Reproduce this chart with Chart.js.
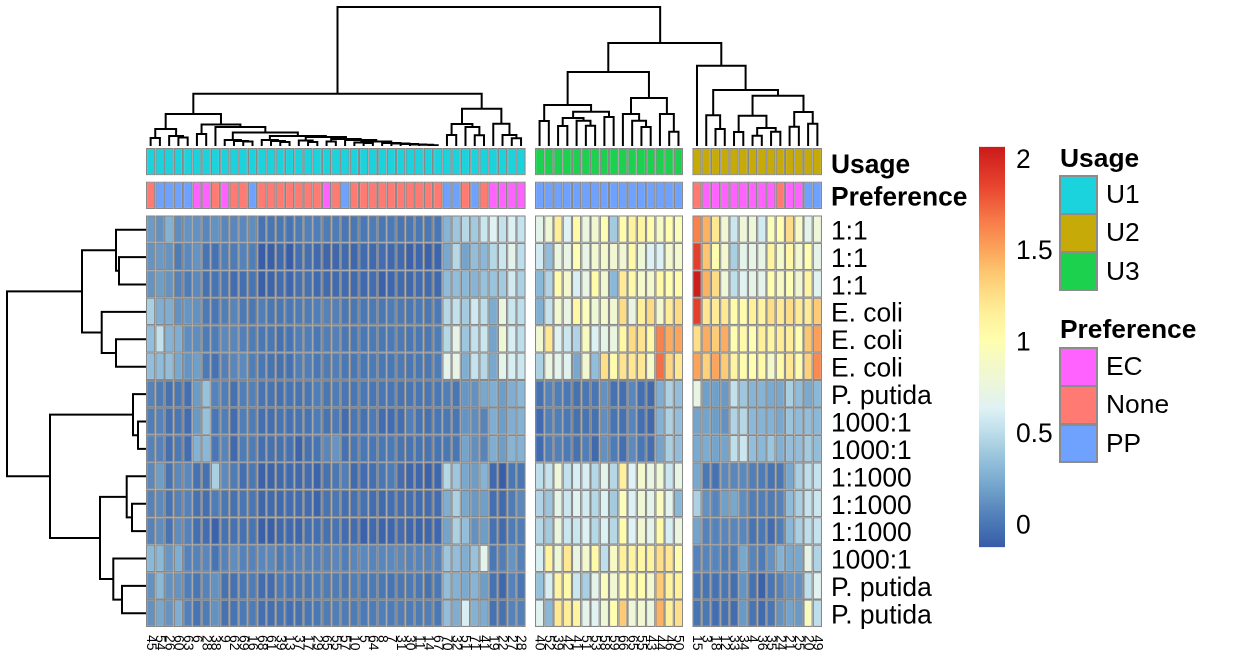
<!DOCTYPE html>
<html><head><meta charset="utf-8">
<script src="https://cdn.jsdelivr.net/npm/chart.js@4"></script>
<style>
html,body{margin:0;padding:0;background:#fff;width:1248px;height:672px;overflow:hidden}
canvas{position:absolute;display:block}
.t{position:absolute;font:26.4px "Liberation Sans",Arial,sans-serif;color:#000;line-height:30px;white-space:nowrap}
.b{font-weight:bold}
.s{position:absolute;box-sizing:border-box;border:2px solid #8c8c8c;left:1059px;width:39px}
</style></head><body>
<canvas id="left" width="146" height="411" style="left:0;top:216px;width:146px;height:411px"></canvas>
<canvas id="top" width="676" height="146" style="left:146px;top:0;width:676px;height:146px"></canvas>
<canvas id="heat" width="850" height="549" style="left:146px;top:123px;width:850px;height:549px"></canvas>
<canvas id="scale" width="90" height="454" style="left:979px;top:120px;width:90px;height:454px"></canvas>
<div id="legend"></div>
<script>
const group1Labels=["45","54","26","60","63","6","28","38","9","62","69","16","68","61","39","13","37","17","29","65","55","57","10","5","64","8","7","31","30","11","14","67","70","32","51","71","41","19","22","27","28"];
const group2Labels=["40","52","39","42","41","51","53","58","59","66","65","55","43","44","46","50"];
const group3Labels=["15","3","18","12","33","34","4","36","35","24","21","25","20","49"];
const rowLabels=["1:1","1:1","1:1","E. coli","E. coli","E. coli","P. putida","1000:1","1000:1","1:1000","1:1000","1:1000","1000:1","P. putida","P. putida"];

const usage1=Array(41).fill("U1"), usage2=Array(16).fill("U3"), usage3=Array(14).fill("U2");
const pref1=["None","PP","PP","PP","PP","EC","EC","None","EC","None","None","PP","None","None","None","None","None","None","None","EC","None","PP","None","None","None","None","None","None","None","None","None","None","PP","PP","None","PP","None","EC","EC","EC","EC"];
const pref2=Array(16).fill("PP");
const pref3=["None","EC","EC","EC","EC","EC","EC","EC","EC","None","EC","EC","PP","PP"];

const row01=[.16,.12,.27,.1,.13,.12,.07,.12,.07,.07,.08,.1,-.02,-.01,0,-.02,.02,.04,.03,.02,.02,-.01,0,0,.02,0,.01,-.01,0,0,0,-.01,.28,.38,.47,.4,.55,.64,.52,.62,.53, .68,.8,1.17,.63,1.05,.75,.82,.98,.4,1.03,1.12,1.1,1.03,.88,1,.95, 1.63,1.45,1.2,.82,.55,.78,.78,.58,.95,1,1.27,.9,.68,.78];
const row02=[.13,.15,.13,.02,.08,.13,-.02,-.03,.03,.02,.05,.03,-.12,-.11,-.06,-.12,-.04,-.04,-.07,-.08,-.08,-.06,-.08,-.06,-.07,-.05,-.07,-.06,-.1,-.08,-.1,-.09,.22,.47,.2,.33,.3,.47,.55,.68,.5, .58,.33,.75,.72,.98,.72,.83,.85,.82,.82,1.05,.8,.62,.62,.85,.85, 1.88,1.38,1.03,.85,.42,.68,.72,.72,1.1,.87,1.08,.85,1,.7];
const row03=[.13,.17,.13,.05,.02,.08,-.03,-.02,-.01,-.05,-.04,-.02,-.11,-.09,-.05,-.08,-.03,-.03,-.06,-.06,-.06,-.06,-.06,-.07,-.05,-.1,-.08,-.06,-.07,-.05,-.06,-.07,.32,.33,.3,.28,.35,.36,.4,.58,.43, .3,.45,1.03,.85,.6,.72,1.02,.82,.3,1.18,1.05,.87,.85,1.05,1,1.02, 2.05,1.45,1.27,.78,.5,.65,.7,.68,1,.9,.97,.82,1.1,.65];
const row04=[.42,.25,.25,.12,.14,.12,.01,-.01,.03,.06,.01,0,.03,0,0,0,.02,.02,.03,.05,.04,0,0,0,.01,0,.02,.01,0,.01,0,.01,.47,.52,.4,.57,.5,.24,.75,.55,.5, .26,.53,.83,.73,1.08,.95,.8,.85,.82,1.27,.73,1.15,1.28,.85,1.17,1.28, 1.88,1.2,1.18,1.2,1.03,1.03,1.15,1.1,1.25,1.18,1.27,1.18,1.18,1.35];
const row05=[.33,.52,.28,.25,.1,.1,.02,.02,.08,.07,.04,.02,0,0,-.03,-.02,.03,.03,0,.03,.04,0,0,0,.01,0,.01,.01,0,0,0,.02,.47,.7,.37,.52,.55,.2,.8,.6,.5, .82,1.2,.65,.55,.45,.92,.62,.7,.75,1.08,1.27,1.22,1.07,1.63,1.48,1.5, 1.25,1.47,1.35,1.47,1,1.05,.98,1.15,1.08,1.17,1.17,1,1.37,1.52];
const row06=[.33,.32,.33,.22,.13,.18,.01,-.03,.04,.07,.09,.03,0,-.02,-.03,-.03,.03,.03,0,.02,.03,0,0,0,.01,0,0,.01,0,0,0,.02,.68,.72,.25,.53,.47,.22,.68,.6,.55, .43,.75,.68,.65,.22,.82,.33,1.25,1.02,1.22,1.2,1.2,.88,1.7,1.3,1.2, 1.5,1.32,1.5,1.35,1.1,1.03,1,1.05,.85,1.05,1.2,1.02,1.32,1.6];
const row07=[.05,.02,-.03,0,-.04,.16,.35,.05,.03,-.03,.03,.04,-.02,-.02,-.03,-.02,-.02,-.01,.03,0,.02,-.01,-.01,0,-.01,-.01,-.01,-.02,-.01,-.01,-.01,0,.03,-.01,.14,.12,.22,.25,.17,.25,.3, -.03,.05,.03,0,-.03,-.01,-.01,.12,-.03,-.04,.07,-.04,-.06,.25,.43,.33, .72,.18,.18,.15,.52,.38,.28,.28,.23,.22,.42,.32,.23,.3];
const row08=[.03,.05,-.03,0,-.05,.15,.35,-.01,.03,-.05,.03,.02,-.04,-.04,-.02,-.03,-.02,-.02,.02,-.02,.01,-.05,-.01,-.03,.01,-.05,-.05,-.04,.03,-.02,-.03,-.01,0,-.01,.13,.1,.06,.25,.17,.25,.27, -.06,.04,.03,0,-.03,-.02,-.03,.11,-.02,-.03,.06,-.04,-.07,.27,.43,.33, .2,.2,.17,.12,.45,.47,.3,.28,.27,.22,.36,.32,.33,.3];
const row09=[.05,.05,-.04,.01,-.05,.27,.3,-.01,.06,-.07,.02,.02,-.04,-.03,-.03,-.03,-.09,-.03,-.02,.07,.13,-.03,-.01,0,-.01,0,.01,-.02,-.02,-.02,-.02,-.02,0,-.01,.2,.11,.06,.25,.17,.28,.27, -.06,.03,.04,.01,-.03,.03,-.07,.12,.02,-.04,.09,-.01,-.04,.2,.42,.33, .23,.24,.2,.2,.5,.55,.33,.3,.37,.26,.33,.33,.4,.33];
const row10=[.08,.17,-.02,.08,.08,-.03,-.03,.42,.09,.02,-.04,0,-.1,-.09,-.07,-.06,-.07,-.05,-.09,-.03,0,.03,-.06,-.05,-.04,0,.02,-.05,-.08,-.08,-.1,-.08,.47,.38,.22,.17,.28,-.07,-.12,0,-.01, .5,.53,.78,.52,.6,.6,.47,.68,.47,1.15,.63,.85,.73,.8,.55,.72, .22,0,-.03,.08,.07,.08,.03,.02,-.02,0,.22,.42,.5,.53];
const row11=[.05,.09,-.02,.05,.05,-.03,-.04,.02,0,-.03,-.01,-.01,-.08,-.06,-.06,-.05,-.05,-.05,-.09,-.02,0,-.04,-.03,-.03,-.05,-.06,-.04,-.04,-.04,-.05,-.05,-.05,.25,.43,.22,.15,.18,-.04,-.06,.02,.08, .45,.37,.7,.55,.65,.58,.47,.62,.4,.95,.62,.8,.68,.93,.67,.3, .43,.12,.06,.18,.22,.1,.03,.03,.02,.05,.32,.42,.53,.55];
const row12=[.05,.1,-.02,.1,.05,-.04,-.05,-.1,-.03,-.03,-.03,-.02,-.11,-.11,-.07,-.07,-.08,-.04,-.04,-.03,-.02,-.05,-.05,-.1,-.07,-.09,-.08,-.05,-.08,-.09,-.08,-.08,.2,.43,.33,.12,.17,-.03,-.06,.02,.03, .47,.4,.75,.55,.55,.62,.47,.62,.47,1.03,.63,.82,.68,1.05,.6,.75, .2,.05,.05,.07,.07,.07,-.02,0,-.05,.03,.3,.42,.5,.53];
const row13=[.3,.3,.14,.25,.05,.05,.07,-.02,.05,.1,.05,.05,.07,.08,.02,.03,.05,.04,.04,.05,.07,.03,.07,.08,.06,.07,.08,.08,.06,.06,.06,.05,.37,.33,.25,.35,.68,0,.03,.13,.05, .6,1.12,.8,1.2,.73,.85,1.05,.5,.9,1.15,1.1,1.08,1.12,1.25,1.2,1.02, .05,.06,.06,.03,.03,.22,.06,.02,.12,.27,.22,.22,.7,.45];
const row14=[.12,.3,.12,.13,.03,-.01,.05,.12,-.03,-.03,0,.02,-.05,-.05,.01,-.02,0,0,.02,.02,.02,0,.03,0,.01,0,-.02,0,.01,0,-.03,0,.33,.27,.23,.28,.17,-.03,-.08,.05,-.01, .35,.6,1.1,1.05,.55,.42,.68,.93,.82,1.03,1.05,1.02,.85,1.35,1.12,1.15, -.01,-.02,-.03,-.01,-.04,.13,-.03,-.1,-.01,.05,.13,.12,.5,.65];
const row15=[.12,.22,.13,.25,.04,-.02,.02,.12,-.03,-.02,.01,.02,-.04,-.04,-.02,-.04,-.03,-.01,0,.02,.03,.02,.02,.01,.02,.03,.02,.03,.02,.02,.03,0,.33,.25,.6,.27,.24,-.03,-.03,.05,.04, .65,.3,1.2,1.17,1.1,.68,.65,.8,1,1.35,.78,.83,.75,1.45,1.15,1.25, -.02,0,-.05,-.03,-.05,.15,-.02,-.06,-.01,.12,.2,.15,.92,.5];
const heatRows=[row01,row02,row03,row04,row05,row06,row07,row08,row09,row10,row11,row12,row13,row14,row15];

// dendrograms: [height, left, right]; a plain number is a leaf (its slot in the categories)
const colTree=[13.9,
 [5.23,
  [3.2,
   [1.7,[.8,0,1],[1,2,[.85,3,4]]],
   [2.15,[1.2,5,6],[1.9,7,
     [1.35,
      [.6,8,[.5,9,[.45,10,11]]],
      [1,
       [.6,12,[.5,13,[.4,14,15]]],
       [.9,
        [.55,16,[.4,17,18]],
        [.7,[.45,19,20],[.6,21,[.45,[.35,22,[.3,23,24]],[.3,25,[.25,26,[.2,27,[.15,28,[.12,29,[.08,30,31]]]]]]]]]
       ]
      ]
     ]
   ]]
  ],
  [3.73,
   [2.2,[1.1,32,33],[1.9,34,[1.07,35,36]]],
   [2.23,37,[1.1,38,[.78,39,40]]]
  ]
 ],
 [10.3,
  [7.4,
   [4.1,[2.5,42,43],[3.43,[2.8,[2,44,45],[2.53,46,[2.03,47,48]]],[2.9,49,50]]],
   [4.8,[3.2,51,[2.53,52,[1.9,53,54]]],[3.2,55,[1.43,56,57]]]
  ],
  [8.03,59,[5.6,[3.07,60,[1.7,61,62]],[5.03,[3.03,[1.4,63,64],[1.8,[1.03,65,66],[1.43,67,68]]],[3.4,[1.93,69,70],[2.23,71,72]]]]]
 ]
];
const rowTree=[13.9,
 [6.4,[3,0,[2.7,1,2]],[4.43,3,[3,4,5]]],
 [9.6,[1.3,6,[.8,7,8]],[4.6,[1.93,9,[1.4,10,11]],[3.27,12,[2.4,13,14]]]]
];

const scaleTicks=[0,.5,1,1.5,2];
const scaleMin=-.13, scaleMax=2.06;
const colorStops=[[-.13,'#375ca8'],[0,'#4a78b5'],[.08,'#5b88bd'],[.18,'#6fa0c9'],[.3,'#8ab8d8'],[.42,'#a8cfe2'],[.53,'#c5e3ee'],[.63,'#dff2f5'],[.78,'#eef7d8'],[.92,'#f8fbc0'],[1,'#ffffaf'],[1.15,'#fff09a'],[1.27,'#fedc85'],[1.38,'#fdc56f'],[1.5,'#fba45b'],[1.65,'#f87d4a'],[1.85,'#e8442f'],[2.06,'#cc1b1b']];
const usageColors={U1:'#1AD3DC',U2:'#C6AB08',U3:'#1CD14E'};
const prefColors={EC:'#FF62FF',None:'#FF7A73',PP:'#6FA2FF'};

const GREY='#888888', FONT='"Liberation Sans",Arial,sans-serif', DPR=2;
Chart.defaults.font.family=FONT;
Chart.defaults.color='#000';
const hex=h=>[1,3,5].map(i=>parseInt(h.substr(i,2),16));
function colorOf(v){
  for(let i=1;i<colorStops.length;i++){
    if(v<=colorStops[i][0]){
      const [a,ca]=colorStops[i-1],[b,cb]=colorStops[i];
      const t=Math.max(0,(v-a)/(b-a)),A=hex(ca),B=hex(cb);
      return `rgb(${A.map((x,k)=>Math.round(x+(B[k]-x)*t)).join(',')})`;
    }
  }
  return colorStops[colorStops.length-1][1];
}
// categories with one empty slot between the groups
const categories=[...group1Labels,'',...group2Labels,'',...group3Labels];
const withGaps=(a,b,c)=>[...a,null,...b,null,...c];
const usageCol=withGaps(usage1,usage2,usage3);
const prefCol=withGaps(pref1,pref2,pref3);

const datasets=[];
heatRows.forEach((row,r)=>{
  const vals=withGaps(row.slice(0,41),row.slice(41,57),row.slice(57));
  datasets.push({label:rowLabels[r],data:vals.map(v=>v===null?null:[14-r,15-r]),
    backgroundColor:vals.map(v=>v===null?'rgba(0,0,0,0)':colorOf(v))});
});
datasets.push({label:'Preference',data:prefCol.map(v=>v===null?null:[15.23,16.23]),backgroundColor:prefCol.map(v=>prefColors[v]||'rgba(0,0,0,0)')});
datasets.push({label:'Usage',data:usageCol.map(v=>v===null?null:[16.46,17.46]),backgroundColor:usageCol.map(v=>usageColors[v]||'rgba(0,0,0,0)')});
datasets.forEach(d=>Object.assign(d,{borderColor:GREY,borderWidth:1.2,borderSkipped:false,inflateAmount:0,grouped:false,barPercentage:1,categoryPercentage:1}));

const rowTickLabels=new Map();
rowLabels.forEach((l,r)=>rowTickLabels.set(14.39-r,l));
rowTickLabels.set(15.63,'Preference');rowTickLabels.set(16.8,'Usage');

const colLabelPlugin={id:'colLabels',afterDraw(chart){
  const {ctx,scales:{x},chartArea}=chart;
  ctx.save();ctx.font='14px '+FONT;ctx.fillStyle='#000';ctx.textAlign='left';ctx.textBaseline='middle';
  categories.forEach((lab,i)=>{
    if(!lab)return;
    ctx.save();ctx.translate(x.getPixelForValue(i),chartArea.bottom+8);ctx.rotate(Math.PI/2);ctx.fillText(lab,0,0);ctx.restore();
  });
  ctx.restore();
}};

new Chart(document.getElementById('heat'),{type:'bar',plugins:[colLabelPlugin],
  data:{labels:categories,datasets},
  options:{responsive:false,animation:false,devicePixelRatio:DPR,
    layout:{padding:{top:0,bottom:45,left:0,right:0}},
    plugins:{legend:{display:false},tooltip:{enabled:false}},
    scales:{
      x:{display:false,type:'category'},
      y:{position:'right',min:0,max:17.46,grid:{display:false,drawTicks:false},border:{display:false},
        afterBuildTicks:a=>{a.ticks=[...rowTickLabels.keys()].sort((p,q)=>p-q).map(value=>({value}));},
        afterFit:a=>{a.width=174;},
        ticks:{autoSkip:false,padding:9,color:'#000',
          callback:v=>rowTickLabels.get(v),
          font:c=>({size:26.4,family:FONT,weight:(c.tick&&c.tick.value>15)?'bold':'normal'})}}
    }}});

// Merge positions are averaged without the group gaps, then shifted by the gaps they fall past.
const noGap=c=>c-(c>41?1:0)-(c>58?1:0);
const withGap=p=>p+(p>41?1:0)+(p>57?1:0);
function treeSegments(node,flip,toInner,toOuter){
  const pts=[];
  const push=(pos,h)=>pts.push(flip?{x:h,y:toOuter(pos)}:{x:toOuter(pos),y:h});
  (function walk(n){
    if(typeof n==='number')return {pos:toInner(n)+.5,h:0};
    const a=walk(n[1]),b=walk(n[2]);
    push(a.pos,a.h);push(a.pos,n[0]);push(b.pos,n[0]);push(b.pos,b.h);
    pts.push({x:NaN,y:NaN});
    return {pos:(a.pos+b.pos)/2,h:n[0]};
  })(node);
  return pts;
}
const same=p=>p;
const lineOpts=(scales)=>({responsive:false,animation:false,devicePixelRatio:DPR,layout:{padding:0},
  plugins:{legend:{display:false},tooltip:{enabled:false}},scales});
const dendroSet=d=>({data:d,showLine:true,borderColor:'#000',borderWidth:2,pointRadius:0,spanGaps:false,tension:0,clip:false,borderCapStyle:'square',borderJoinStyle:'miter'});
new Chart(document.getElementById('top'),{type:'scatter',data:{datasets:[dendroSet(treeSegments(colTree,false,noGap,withGap))]},
  options:lineOpts({x:{type:'linear',display:false,min:0,max:73},y:{type:'linear',display:false,min:0,max:14.6}})});
new Chart(document.getElementById('left'),{type:'scatter',data:{datasets:[dendroSet(treeSegments(rowTree,true,same,same))]},
  options:lineOpts({x:{type:'linear',display:false,min:0,max:14.6,reverse:true},y:{type:'linear',display:false,min:0,max:15,reverse:true}})});

// colour scale
const scaleCanvas=document.getElementById('scale');
const grad=scaleCanvas.getContext('2d').createLinearGradient(0,427,0,27);
colorStops.forEach(([v,c])=>grad.addColorStop((v-scaleMin)/(scaleMax-scaleMin),c));
const labelNudge=.015;
new Chart(scaleCanvas,{type:'bar',
  data:{labels:['scale'],datasets:[{data:[[scaleMin,scaleMax]],backgroundColor:grad,borderWidth:0,barPercentage:1,categoryPercentage:1}]},
  options:{responsive:false,animation:false,devicePixelRatio:DPR,
    layout:{padding:0},
    plugins:{legend:{display:false},tooltip:{enabled:false}},
    scales:{x:{display:false},
      y:{position:'right',min:scaleMin,max:scaleMax,grid:{display:false,drawTicks:false},border:{display:false},
        afterBuildTicks:a=>{a.ticks=scaleTicks.map(v=>({value:v-labelNudge}));},
        afterFit:a=>{a.width=64;},
        ticks:{autoSkip:false,padding:11,color:'#000',font:{size:26.4,family:FONT},callback:v=>String(Math.round(v*2)/2)}}}}});

// legends
const lg=document.getElementById('legend');
function block(title,names,colors,titleY,top){
  lg.insertAdjacentHTML('beforeend',`<div class="t b" style="left:1060px;top:${titleY-15}px">${title}</div>`);
  names.forEach((n,i)=>{
    const y=top+i*38.33;
    lg.insertAdjacentHTML('beforeend',`<div class="s" style="top:${y}px;height:${i==names.length-1?39:40}px;background:${colors[n]}"></div><div class="t" style="left:1106px;top:${y+19-15}px">${n}</div>`);
  });
}
block('Usage',['U1','U2','U3'],usageColors,158,175);
block('Preference',['EC','None','PP'],prefColors,329,347);
</script></body></html>
